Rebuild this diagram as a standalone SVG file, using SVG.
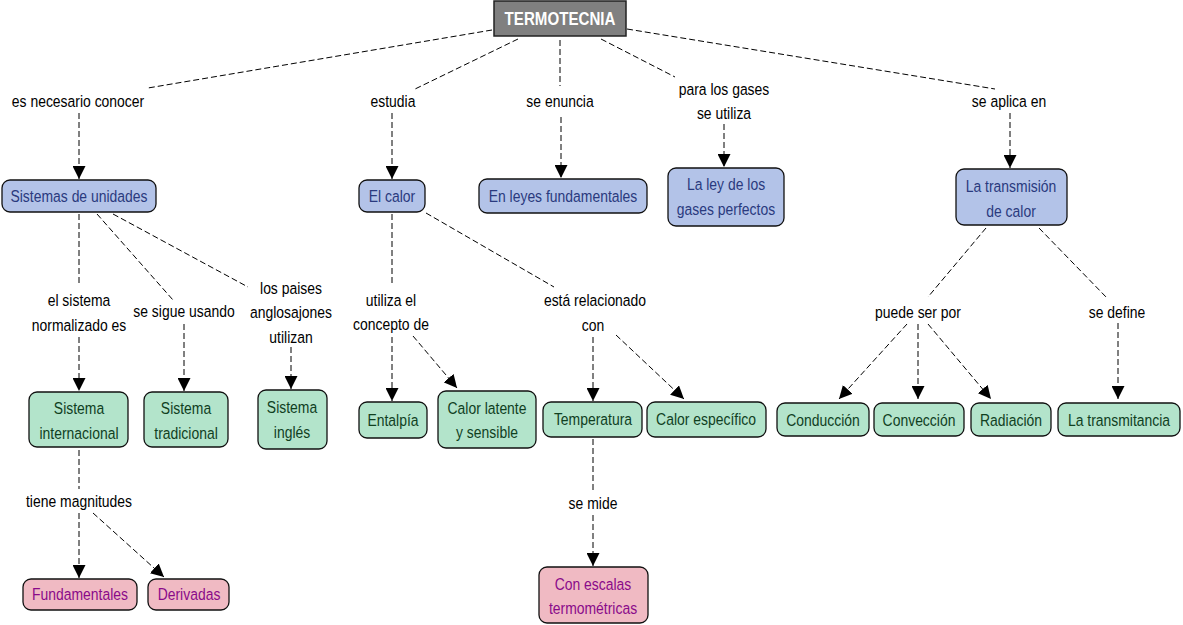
<svg xmlns="http://www.w3.org/2000/svg" width="1183" height="625" viewBox="0 0 1183 625">
<defs>
<style>
text{font-family:"Liberation Sans",Arial,sans-serif;font-size:17px;text-anchor:middle}
.lbl{fill:#000}
.b rect{fill:#b3c3e8;stroke:#111;stroke-width:1.3}
.b text{fill:#2a3a7e}
.g rect{fill:#b3e4cb;stroke:#111;stroke-width:1.3}
.g text{fill:#10401f}
.p rect{fill:#f0bac3;stroke:#111;stroke-width:1.3}
.p text{fill:#8a0a8a}
#links line{stroke:#000;stroke-width:1;stroke-dasharray:6 3;fill:none}
#links line.a{marker-end:url(#ah)}
</style>
<marker id="ah" markerUnits="userSpaceOnUse" markerWidth="13" markerHeight="13" refX="13" refY="6.5" orient="auto" viewBox="0 0 13 13">
<path d="M0,0 L13,6.5 L0,13 z" fill="#000"/>
</marker>
</defs>
<rect width="1183" height="625" fill="#fff"/>
<g id="links">
<line x1="492" y1="30" x2="148" y2="88"/>
<line x1="79" y1="113" x2="79" y2="179" class="a"/>
<line x1="518" y1="39" x2="413" y2="90"/>
<line x1="392" y1="113" x2="392" y2="179" class="a"/>
<line x1="560" y1="40" x2="560" y2="86"/>
<line x1="561" y1="117" x2="561" y2="178" class="a"/>
<line x1="601" y1="39" x2="675" y2="77"/>
<line x1="724" y1="124" x2="724" y2="167" class="a"/>
<line x1="627" y1="29" x2="995" y2="89"/>
<line x1="1010" y1="113" x2="1010" y2="168" class="a"/>
<line x1="79" y1="214" x2="79" y2="286"/>
<line x1="79" y1="337" x2="79" y2="391" class="a"/>
<line x1="97" y1="214" x2="173" y2="300"/>
<line x1="184" y1="324" x2="184" y2="391" class="a"/>
<line x1="113" y1="214" x2="248" y2="287"/>
<line x1="291" y1="347" x2="291" y2="389" class="a"/>
<line x1="79" y1="450" x2="79" y2="489"/>
<line x1="79" y1="513" x2="79" y2="578" class="a"/>
<line x1="93" y1="513" x2="164" y2="577" class="a"/>
<line x1="392" y1="214" x2="392" y2="286"/>
<line x1="392" y1="337" x2="392" y2="401" class="a"/>
<line x1="413" y1="336" x2="457" y2="388" class="a"/>
<line x1="426" y1="213" x2="554" y2="287"/>
<line x1="593" y1="337" x2="593" y2="401" class="a"/>
<line x1="616" y1="335" x2="684" y2="399" class="a"/>
<line x1="593" y1="439" x2="593" y2="490"/>
<line x1="593" y1="515" x2="593" y2="566" class="a"/>
<line x1="986" y1="228" x2="928" y2="297"/>
<line x1="907" y1="324" x2="839" y2="399" class="a"/>
<line x1="918" y1="324" x2="918" y2="399" class="a"/>
<line x1="928" y1="324" x2="991" y2="399" class="a"/>
<line x1="1039" y1="228" x2="1107" y2="298"/>
<line x1="1118" y1="323" x2="1118" y2="399" class="a"/>
</g>
<g class="lbl">
<text transform="translate(78,107) scale(.82,1)">es necesario conocer</text>
<text transform="translate(393,107) scale(.82,1)">estudia</text>
<text transform="translate(560,107) scale(.82,1)">se enuncia</text>
<text transform="translate(724,95) scale(.82,1)">para los gases</text>
<text transform="translate(724,119) scale(.82,1)">se utiliza</text>
<text transform="translate(1009,107) scale(.82,1)">se aplica en</text>
<text transform="translate(79,306) scale(.82,1)">el sistema</text>
<text transform="translate(79,331) scale(.82,1)">normalizado es</text>
<text transform="translate(184,317) scale(.82,1)">se sigue usando</text>
<text transform="translate(291,294) scale(.82,1)">los paises</text>
<text transform="translate(291,318) scale(.82,1)">anglosajones</text>
<text transform="translate(291,343) scale(.82,1)">utilizan</text>
<text transform="translate(79,507) scale(.82,1)">tiene magnitudes</text>
<text transform="translate(391,306) scale(.82,1)">utiliza el</text>
<text transform="translate(391,330) scale(.82,1)">concepto de</text>
<text transform="translate(595,306) scale(.82,1)">está relacionado</text>
<text transform="translate(593,331) scale(.82,1)">con</text>
<text transform="translate(593,509) scale(.82,1)">se mide</text>
<text transform="translate(918,318) scale(.82,1)">puede ser por</text>
<text transform="translate(1117,318) scale(.82,1)">se define</text>
</g>
<g id="n-termotecnia">
<rect x="494" y="1" width="132" height="35" fill="#808080" stroke="#222" stroke-width="1.5"/>
<text transform="translate(560,25) scale(.84,1)" style="fill:#fff;font-weight:bold;font-size:18px">TERMOTECNIA</text>
</g>
<g id="n-sistemas" class="b"><rect x="2" y="180" width="154" height="32" rx="8"/><text transform="translate(79,202) scale(.82,1)">Sistemas de unidades</text></g>
<g id="n-calor" class="b"><rect x="359" y="180" width="66" height="32" rx="8"/><text transform="translate(392,202) scale(.82,1)">El calor</text></g>
<g id="n-leyes" class="b"><rect x="479" y="179" width="168" height="34" rx="8"/><text transform="translate(563,202) scale(.82,1)">En leyes fundamentales</text></g>
<g id="n-gases" class="b"><rect x="668" y="168" width="116" height="58" rx="8"/><text transform="translate(726,190) scale(.82,1)">La ley de los</text><text transform="translate(726,215) scale(.82,1)">gases perfectos</text></g>
<g id="n-transmision" class="b"><rect x="956" y="169" width="111" height="56" rx="8"/><text transform="translate(1011,192) scale(.82,1)">La transmisión</text><text transform="translate(1011,217) scale(.82,1)">de calor</text></g>
<g id="n-internacional" class="g"><rect x="29" y="392" width="99" height="55" rx="8"/><text transform="translate(79,414) scale(.82,1)">Sistema</text><text transform="translate(79,439) scale(.82,1)">internacional</text></g>
<g id="n-tradicional" class="g"><rect x="144" y="392" width="84" height="55" rx="8"/><text transform="translate(186,414) scale(.82,1)">Sistema</text><text transform="translate(186,439) scale(.82,1)">tradicional</text></g>
<g id="n-ingles" class="g"><rect x="258" y="390" width="69" height="59" rx="8"/><text transform="translate(292,413) scale(.82,1)">Sistema</text><text transform="translate(292,438) scale(.82,1)">inglés</text></g>
<g id="n-fundamentales" class="p"><rect x="23" y="579" width="114" height="31" rx="8"/><text transform="translate(80,600) scale(.82,1)">Fundamentales</text></g>
<g id="n-derivadas" class="p"><rect x="148" y="579" width="81" height="31" rx="8"/><text transform="translate(189,600) scale(.82,1)">Derivadas</text></g>
<g id="n-entalpia" class="g"><rect x="359" y="402" width="68" height="36" rx="8"/><text transform="translate(393,426) scale(.82,1)">Entalpía</text></g>
<g id="n-latente" class="g"><rect x="438" y="391" width="98" height="57" rx="8"/><text transform="translate(487,414) scale(.82,1)">Calor latente</text><text transform="translate(487,438) scale(.82,1)">y sensible</text></g>
<g id="n-temperatura" class="g"><rect x="543" y="402" width="99" height="35" rx="8"/><text transform="translate(593,425) scale(.82,1)">Temperatura</text></g>
<g id="n-especifico" class="g"><rect x="647" y="402" width="119" height="35" rx="8"/><text transform="translate(706,425) scale(.82,1)">Calor específico</text></g>
<g id="n-escalas" class="p"><rect x="539" y="567" width="109" height="56" rx="8"/><text transform="translate(593,590) scale(.82,1)">Con escalas</text><text transform="translate(593,614) scale(.82,1)">termométricas</text></g>
<g id="n-conduccion" class="g"><rect x="777" y="403" width="92" height="33" rx="8"/><text transform="translate(823,426) scale(.82,1)">Conducción</text></g>
<g id="n-conveccion" class="g"><rect x="874" y="403" width="90" height="33" rx="8"/><text transform="translate(919,426) scale(.82,1)">Convección</text></g>
<g id="n-radiacion" class="g"><rect x="971" y="403" width="80" height="33" rx="8"/><text transform="translate(1011,426) scale(.82,1)">Radiación</text></g>
<g id="n-transmitancia" class="g"><rect x="1058" y="403" width="122" height="33" rx="8"/><text transform="translate(1119,426) scale(.82,1)">La transmitancia</text></g>
</svg>
